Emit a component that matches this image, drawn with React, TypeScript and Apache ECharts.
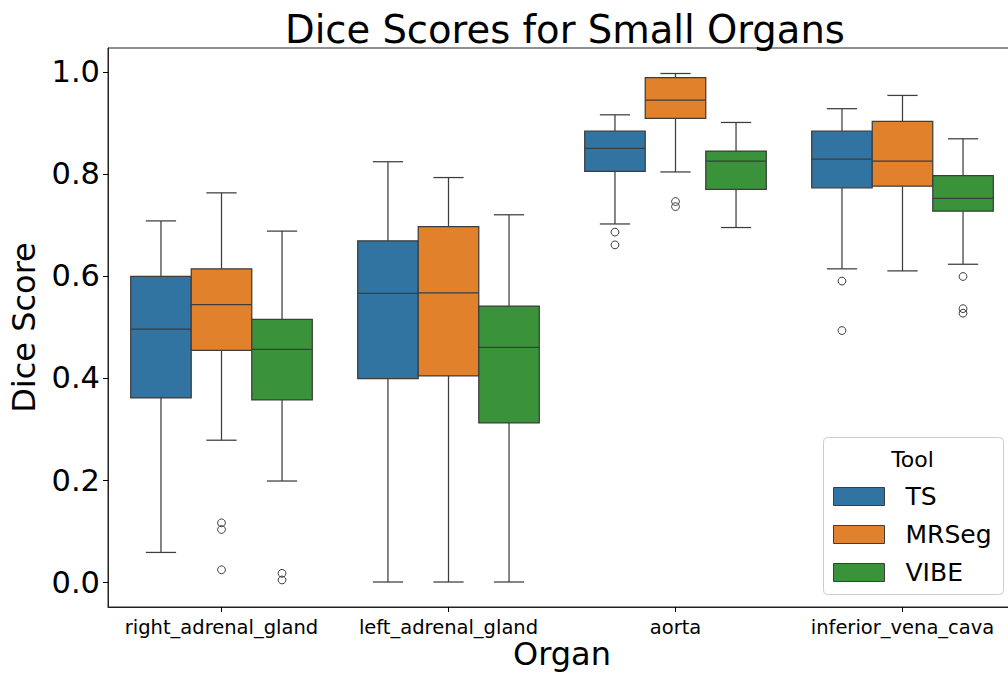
import React, { useEffect, useRef } from "react";
import * as echarts from "echarts";

const categories = ["right_adrenal_gland", "left_adrenal_gland", "aorta", "inferior_vena_cava"];
const tools = ["TS", "MRSeg", "VIBE"];
const yTicks = [0.0, 0.2, 0.4, 0.6, 0.8, 1.0];

// [lower whisker, Q1, median, Q3, upper whisker] per organ
const tsStats = [
  [0.058, 0.361, 0.496, 0.599, 0.708],
  [0.0, 0.399, 0.566, 0.669, 0.824],
  [0.702, 0.805, 0.85, 0.884, 0.916],
  [0.614, 0.773, 0.829, 0.884, 0.928],
];
const mrsegStats = [
  [0.278, 0.454, 0.544, 0.614, 0.763],
  [0.0, 0.404, 0.567, 0.697, 0.793],
  [0.804, 0.909, 0.945, 0.989, 0.997],
  [0.61, 0.776, 0.825, 0.903, 0.954],
];
const vibeStats = [
  [0.198, 0.357, 0.456, 0.515, 0.688],
  [0.0, 0.312, 0.46, 0.541, 0.72],
  [0.695, 0.77, 0.825, 0.845, 0.901],
  [0.623, 0.727, 0.752, 0.797, 0.869],
];

// outliers per organ
const tsOutliers = [[], [], [0.686, 0.661], [0.59, 0.493]];
const mrsegOutliers = [[0.116, 0.103, 0.024], [], [0.746, 0.736], []];
const vibeOutliers = [[0.017, 0.004], [], [], [0.599, 0.536, 0.527]];

const COLORS = ["#3274a1", "#e1812c", "#3a923a"];
const EDGE = "#3d3d3d";
const LW = 1.25;
const FONT = "DejaVu Sans";

const allStats = [tsStats, mrsegStats, vibeStats];
const allOutliers = [tsOutliers, mrsegOutliers, vibeOutliers];

function boxRenderer(t: number) {
  return (params: any, api: any) => {
    const cat = api.value(0);
    const lo = api.value(1);
    const q1 = api.value(2);
    const med = api.value(3);
    const q3 = api.value(4);
    const hi = api.value(5);
    const band = api.size([1, 0])[0];
    const w = (band * 0.8) / 3;
    const cx = api.coord([cat, 0])[0] + (t - 1) * w;
    const y = (v: number) => api.coord([cat, v])[1];
    const x0 = cx - w / 2;
    const cap = w / 4;
    const ls = { stroke: EDGE, lineWidth: LW, fill: null };
    return {
      type: "group",
      children: [
        { type: "line", shape: { x1: cx, y1: y(q1), x2: cx, y2: y(lo) }, style: ls },
        { type: "line", shape: { x1: cx, y1: y(q3), x2: cx, y2: y(hi) }, style: ls },
        { type: "line", shape: { x1: cx - cap, y1: y(lo), x2: cx + cap, y2: y(lo) }, style: ls },
        { type: "line", shape: { x1: cx - cap, y1: y(hi), x2: cx + cap, y2: y(hi) }, style: ls },
        {
          type: "rect",
          shape: { x: x0, y: y(q3), width: w, height: y(q1) - y(q3) },
          style: { fill: COLORS[t], stroke: EDGE, lineWidth: LW },
        },
        { type: "line", shape: { x1: x0, y1: y(med), x2: x0 + w, y2: y(med) }, style: ls },
      ],
    };
  };
}

function outlierRenderer(t: number) {
  return (params: any, api: any) => {
    const cat = api.value(0);
    const v = api.value(1);
    const band = api.size([1, 0])[0];
    const w = (band * 0.8) / 3;
    const p = api.coord([cat, v]);
    return {
      type: "circle",
      shape: { cx: p[0] + (t - 1) * w, cy: p[1], r: 3.9 },
      style: { fill: "none", stroke: EDGE, lineWidth: 1 },
    };
  };
}

export default function App() {
  const ref = useRef<HTMLDivElement>(null);
  useEffect(() => {
    if (!ref.current) return;
    const chart = echarts.init(ref.current, null, { renderer: "svg" });
    const series: any[] = [];
    tools.forEach((name, t) => {
      series.push({
        type: "custom",
        name,
        renderItem: boxRenderer(t),
        itemStyle: { color: COLORS[t] },
        encode: { x: 0, y: [1, 2, 3, 4, 5] },
        data: allStats[t].map((s, i) => [i, ...s]),
        z: 3,
      });
      const pts: number[][] = [];
      allOutliers[t].forEach((arr, i) => arr.forEach((v) => pts.push([i, v])));
      series.push({
        type: "custom",
        name,
        renderItem: outlierRenderer(t),
        itemStyle: { color: COLORS[t] },
        encode: { x: 0, y: 1 },
        data: pts,
        z: 3,
      });
    });

    chart.setOption({
      animation: false,
      backgroundColor: "#ffffff",
      textStyle: { fontFamily: FONT },
      title: {
        text: "Dice Scores for Small Organs",
        left: 285,
        top: 10,
        padding: 0,
        textStyle: { fontFamily: FONT, fontSize: 38.5, fontWeight: "normal", color: "#000" },
      },
      grid: {
        left: 108,
        right: -8,
        top: 48,
        bottom: 68,
        show: true,
        borderColor: "#222",
        borderWidth: 1,
        outerBoundsMode: "none",
        containLabel: false,
      },
      xAxis: {
        type: "category",
        data: categories,
        boundaryGap: true,
        name: "Organ",
        nameLocation: "middle",
        nameGap: 31,
        nameMoveOverlap: false,
        nameTextStyle: { fontFamily: FONT, fontSize: 32, color: "#000", lineHeight: 32 },
        axisLine: { show: true, onZero: false, lineStyle: { color: "#222", width: 1 } },
        axisTick: { show: true, alignWithLabel: true, length: 5, lineStyle: { color: "#000" } },
        axisLabel: { fontFamily: FONT, fontSize: 19.5, color: "#000", margin: 10, interval: 0 },
        splitLine: { show: false },
      },
      yAxis: {
        type: "value",
        min: -0.049,
        max: 1.047,
        name: "Dice Score",
        nameLocation: "middle",
        nameRotate: 90,
        nameGap: 68,
        nameMoveOverlap: false,
        nameTextStyle: { fontFamily: FONT, fontSize: 32, color: "#000", lineHeight: 32 },
        axisLine: { show: true, lineStyle: { color: "#222", width: 1 } },
        axisTick: { show: true, length: 5, customValues: yTicks, lineStyle: { color: "#000" } },
        axisLabel: {
          fontFamily: FONT,
          fontSize: 30.5,
          color: "#000",
          margin: 8,
          customValues: yTicks,
          formatter: (v: number) => v.toFixed(1),
        },
        splitLine: { show: false },
      },
      legend: {
        orient: "vertical",
        left: 833,
        top: 484,
        padding: 0,
        itemWidth: 51,
        itemHeight: 18,
        itemGap: 13,
        selectedMode: false,
        z: 10,
        textStyle: { fontFamily: FONT, fontSize: 25, color: "#000", padding: [0, 0, 0, 16] },
        data: tools.map((n, i) => ({
          name: n,
          icon: "rect",
          itemStyle: { color: COLORS[i], borderColor: EDGE, borderWidth: 1 },
        })),
      },
      graphic: [
        {
          type: "rect",
          z: 5,
          shape: { x: 823.5, y: 437.5, width: 180, height: 157, r: 4 },
          style: { fill: "rgba(255,255,255,0.8)", stroke: "#cccccc", lineWidth: 1 },
        },
        {
          type: "text",
          z: 6,
          x: 912.5,
          y: 459,
          style: {
            text: "Tool",
            fontFamily: FONT,
            fontSize: 22,
            fill: "#000",
            align: "center",
            verticalAlign: "middle",
          },
        },
      ],
      series,
    });
    return () => chart.dispose();
  }, []);
  return <div ref={ref} style={{ width: 1008, height: 675, position: "absolute", left: 0, top: 0 }} />;
}
